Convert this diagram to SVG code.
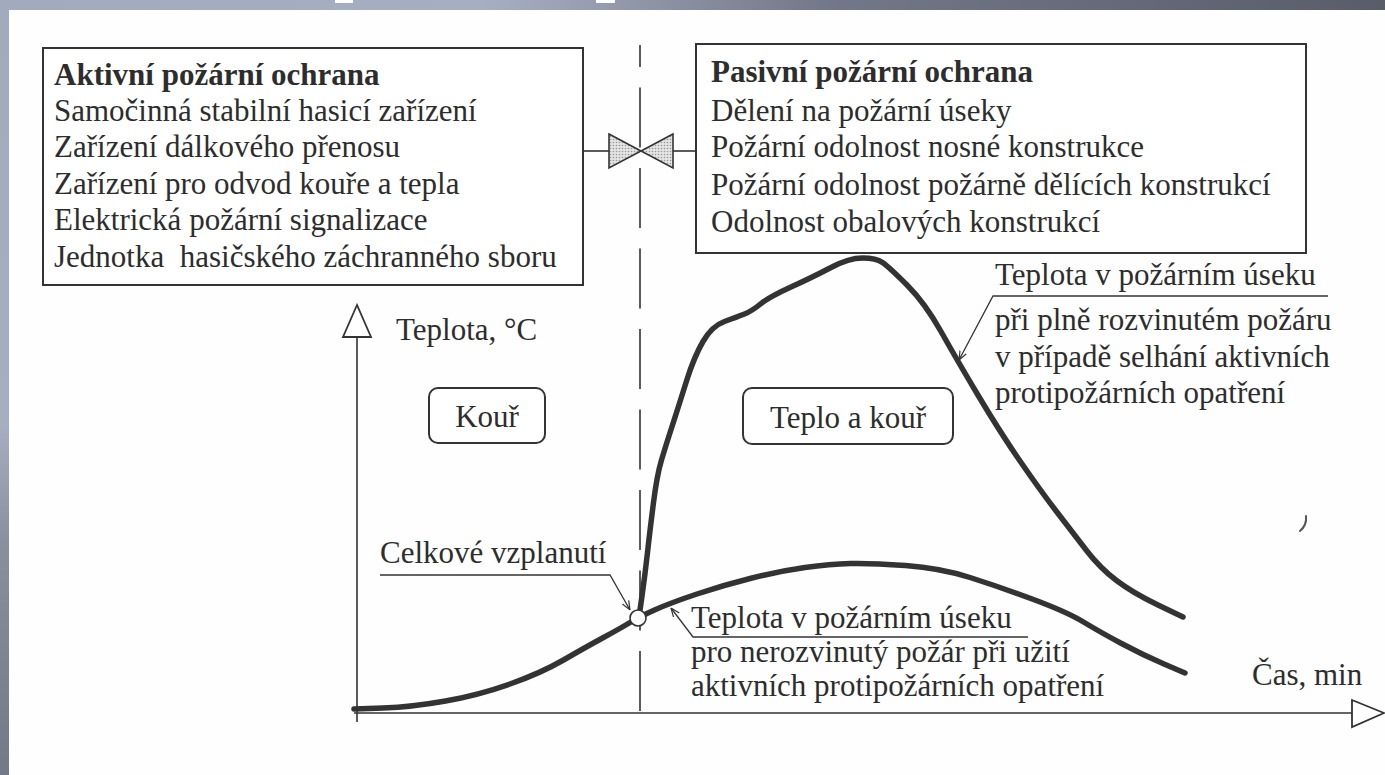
<svg xmlns="http://www.w3.org/2000/svg" width="1385" height="775" viewBox="0 0 1385 775">
<style>
text{font-family:"Liberation Serif","Times New Roman",serif;font-size:31px;fill:#2d2d2d}
.b{font-weight:bold}
.box{fill:#fff;stroke:#333;stroke-width:2}
.ln{fill:none;stroke:#333;stroke-width:1.6}
.thin{fill:none;stroke:#333;stroke-width:1.3}
.curve{fill:none;stroke:#333;stroke-width:5.5;stroke-linejoin:round;stroke-linecap:round}
.arr{fill:#fff;stroke:#333;stroke-width:1.8;stroke-linejoin:miter}
</style>
<defs>
<linearGradient id="gTop" x1="0" y1="0" x2="1" y2="0">
<stop offset="0" stop-color="#a2aabd"/>
<stop offset="0.35" stop-color="#a6aec1"/>
<stop offset="0.6" stop-color="#727889"/>
<stop offset="1" stop-color="#595d69"/>
</linearGradient>
<linearGradient id="gLeft" x1="0" y1="0" x2="0" y2="1">
<stop offset="0" stop-color="#a2aabd"/>
<stop offset="0.55" stop-color="#a6aec1"/>
<stop offset="0.7" stop-color="#8a8f9f"/>
<stop offset="1" stop-color="#747988"/>
</linearGradient>
<pattern id="dots" width="3" height="3" patternUnits="userSpaceOnUse">
<rect width="3" height="3" fill="#e4e4e4"/>
<circle cx="1.5" cy="1.5" r="0.8" fill="#999"/>
</pattern>
<marker id="tick" viewBox="0 0 10 10" refX="10" refY="5" markerWidth="9" markerHeight="9" orient="auto" markerUnits="userSpaceOnUse">
<path d="M0,1 L10,5 L0,9" fill="none" stroke="#333" stroke-width="1.3"/>
</marker>
</defs>

<g id="background">
<rect x="0" y="0" width="1385" height="775" fill="#fefefe"/>
<rect x="0" y="0" width="1385" height="10" fill="url(#gTop)"/>
<rect x="0" y="0" width="9" height="775" fill="url(#gLeft)"/>
<rect x="335" y="0" width="18" height="3" fill="#fff"/>
<rect x="596" y="0" width="19" height="3" fill="#fff"/>
</g>

<g id="box-active">
<rect class="box" x="43" y="48" width="540" height="237"/>
<text class="b" x="54" y="85">Aktivní požární ochrana</text>
<text x="54" y="121">Samočinná stabilní hasicí zařízení</text>
<text x="54" y="157">Zařízení dálkového přenosu</text>
<text x="54" y="194">Zařízení pro odvod kouře a tepla</text>
<text x="54" y="230">Elektrická požární signalizace</text>
<text x="54" y="267" xml:space="preserve">Jednotka  hasičského záchranného sboru</text>
</g>

<g id="box-passive">
<rect class="box" x="696" y="44" width="610" height="209"/>
<text class="b" x="711" y="82">Pasivní požární ochrana</text>
<text x="711" y="121">Dělení na požární úseky</text>
<text x="711" y="157">Požární odolnost nosné konstrukce</text>
<text x="711" y="195">Požární odolnost požárně dělících konstrukcí</text>
<text x="711" y="232">Odolnost obalových konstrukcí</text>
</g>

<g id="connectors">
<line class="ln" x1="640" y1="45" x2="640" y2="712" stroke-dasharray="60 20.5" stroke-dashoffset="38"/>
<line class="ln" x1="583" y1="151" x2="609" y2="151"/>
<line class="ln" x1="672" y1="151" x2="696" y2="151"/>
<polyline class="thin" points="380,575 610,575 630,610" marker-end="url(#tick)"/>
<polyline class="thin" points="1028,637 693,637 671,608" marker-end="url(#tick)"/>
<polyline class="thin" points="1328,296 993,296 959,360" marker-end="url(#tick)"/>
</g>

<g id="valve">
<polygon points="609,134 641,151 609,168" fill="url(#dots)" stroke="#333" stroke-width="1.6" stroke-linejoin="miter"/>
<polygon points="673,134 641,151 673,168" fill="url(#dots)" stroke="#333" stroke-width="1.6" stroke-linejoin="miter"/>
</g>

<g id="axis-y">
<line class="ln" x1="357" y1="337" x2="357" y2="722" stroke-width="2"/>
<polygon class="arr" points="357,305 343,337 371,337"/>
<text x="396" y="340">Teplota, °C</text>
</g>

<g id="axis-x">
<line class="ln" x1="354" y1="713" x2="1352" y2="713" stroke-width="2"/>
<polygon class="arr" points="1352,700 1384,713 1352,727"/>
<text x="1252" y="685">Čas, min</text>
</g>

<g id="label-kour">
<rect class="box" x="429" y="388" width="116" height="55" rx="9" stroke-width="1.6"/>
<text x="487" y="427" text-anchor="middle">Kouř</text>
</g>

<g id="label-teplo-a-kour">
<rect class="box" x="743" y="388" width="210" height="56" rx="9" stroke-width="1.6"/>
<text x="848" y="428" text-anchor="middle">Teplo a kouř</text>
</g>

<g id="curve-lower">
<path class="curve" d="M354,709 L383,708 Q412,707 445.5,701 Q479,695 510,684 Q541,673 563.5,660 Q586,647 603.5,637.5 Q621,628 630,622.5 Q639,617 654.5,610 Q670,603 697,594 Q724,585 752,578 Q780,571 805,567.5 Q830,564 850.5,563.5 Q871,563 905.5,565.5 Q940,568 970,577.5 Q1000,587 1033.5,599.5 Q1067,612 1083.5,622 Q1100,632 1121.5,643.5 Q1143,655 1164,664 L1185,673"/>
</g>

<g id="curve-upper">
<path class="curve" d="M639,617 L642,596 Q645,575 647.5,552.5 Q650,530 653.5,502.5 Q657,475 661.5,460 Q666,445 672.5,425 Q679,405 686.5,381 Q694,357 703,341.5 Q712,326 724.5,321.5 Q737,317 744.5,314 Q752,311 760.5,304 Q769,297 791,287 Q813,277 831,267.5 Q849,258 862.5,258 Q876,258 882.5,262.5 Q889,267 907,285 Q925,303 941,331.5 Q957,360 978.5,396 Q1000,432 1020,461 Q1040,490 1056.5,511.5 Q1073,533 1086.5,550.5 Q1100,568 1116.5,580.5 Q1133,593 1158,605 L1183,617"/>
</g>

<g id="flashover-point">
<circle cx="638" cy="618" r="8" fill="#fff" stroke="#333" stroke-width="1.6"/>
<text x="380" y="563">Celkové vzplanutí</text>
</g>

<g id="annotation-full">
<text x="995" y="285">Teplota v požárním úseku</text>
<text x="995" y="330">při plně rozvinutém požáru</text>
<text x="995" y="367">v případě selhání aktivních</text>
<text x="995" y="403">protipožárních opatření</text>
</g>

<g id="annotation-undeveloped">
<text x="691" y="628">Teplota v požárním úseku</text>
<text x="691" y="662">pro nerozvinutý požár při užití</text>
<text x="691" y="696">aktivních protipožárních opatření</text>
</g>

<g id="stray-mark">
<path d="M1306,516 q1,9 -6,15" fill="none" stroke="#555" stroke-width="2" stroke-linecap="round"/>
</g>
</svg>
